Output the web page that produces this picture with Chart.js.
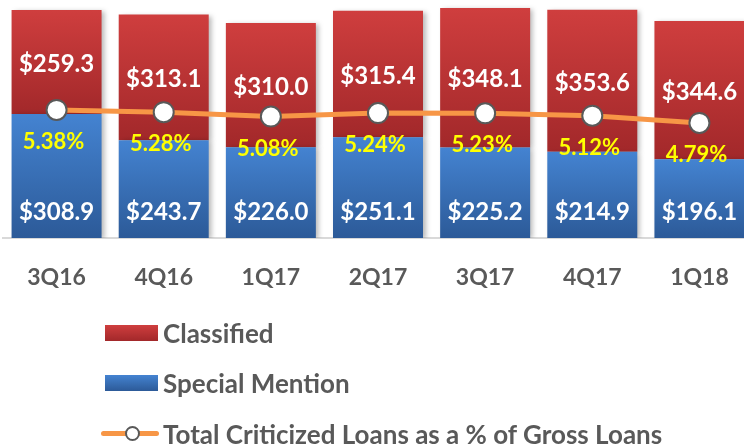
<!DOCTYPE html>
<html>
<head>
<meta charset="utf-8">
<script src="https://cdn.jsdelivr.net/npm/chart.js@4.4.0/dist/chart.umd.min.js"></script>
<style>
  html, body { margin: 0; padding: 0; background: #fff; overflow: hidden; }
  #wrap { position: relative; width: 756px; height: 444px; }
  #legend { position: absolute; left: 0; top: 0; font: bold 26px Lato, sans-serif; color: #595959; }
  .item { position: absolute; left: 0; height: 30px; white-space: nowrap; }
  .item span.txt { position: absolute; left: 163px; top: 0; line-height: 30px; }
  .swatch { position: absolute; left: 105px; top: 7px; width: 53px; height: 16px; }
  .lineSwatch { position: absolute; left: 101px; top: 12px; width: 58px; height: 5px; border-radius: 3px; background: #F79646; }
  .lineSwatch i { position: absolute; left: 24px; top: -5px; width: 11px; height: 11px; border-radius: 50%; background: #fff; border: 2px solid #595959; }
</style>
</head>
<body>
<div id="wrap">
  <canvas id="chart" width="756" height="444"></canvas>
  <div id="legend"></div>
</div>
<script>
// Quarters
const quarters = ['3Q16', '4Q16', '1Q17', '2Q17', '3Q17', '4Q17', '1Q18'];
// $ millions
const classified = [259.3, 313.1, 310.0, 315.4, 348.1, 353.6, 344.6];
const specialMention = [308.9, 243.7, 226.0, 251.1, 225.2, 214.9, 196.1];
// Total criticized loans as a % of gross loans
const criticizedPct = [5.38, 5.28, 5.08, 5.24, 5.23, 5.12, 4.79];

const RED = ['#CF3E3E', '#A2282A'];
const BLUE = ['#4483D1', '#2C5A98'];

// per-segment vertical gradient (light top, dark bottom)
const segGradient = (stops, startOf) => (c) => {
  const chart = c.chart;
  const y = chart.scales.y;
  if (!chart.chartArea || !y || c.dataIndex === undefined) return stops[0];
  const lo = startOf(c.dataIndex);
  const hi = lo + c.dataset.data[c.dataIndex];
  const g = chart.ctx.createLinearGradient(0, y.getPixelForValue(hi), 0, y.getPixelForValue(lo));
  g.addColorStop(0, stops[0]);
  g.addColorStop(1, stops[1]);
  return g;
};

// soft shadow behind the bars
const barShadow = {
  id: 'barShadow',
  beforeDatasetDraw(chart, args) {
    if (args.meta.type !== 'bar') return;
    const ctx = chart.ctx;
    ctx.save();
    ctx.shadowColor = 'rgba(0,0,0,0.28)';
    ctx.shadowBlur = 5;
    ctx.shadowOffsetX = 3;
    ctx.shadowOffsetY = 1;
  },
  afterDatasetDraw(chart, args) {
    if (args.meta.type !== 'bar') return;
    chart.ctx.restore();
  },
};

// value labels inside bars and under the line points
const valueLabels = {
  id: 'valueLabels',
  afterDatasetsDraw(chart) {
    const ctx = chart.ctx;
    const blue = chart.getDatasetMeta(0).data;
    const red = chart.getDatasetMeta(1).data;
    const pts = chart.getDatasetMeta(2).data;
    ctx.save();
    ctx.textAlign = 'center';
    ctx.textBaseline = 'middle';
    ctx.font = 'bold 24px Lato';
    ctx.fillStyle = '#FFFFFF';
    red.forEach((el, i) => ctx.fillText('$' + classified[i].toFixed(1), el.x, (el.y + el.base) / 2 + 2));
    blue.forEach((el, i) => ctx.fillText('$' + specialMention[i].toFixed(1), el.x, el.base - 26));
    ctx.font = 'bold 22px Lato';
    ctx.fillStyle = '#FFFF00';
    pts.forEach((el, i) => ctx.fillText(criticizedPct[i].toFixed(2) + '%', el.x - 3, el.y + 32));
    ctx.restore();
  },
};

const chart = new Chart(document.getElementById('chart'), {
  data: {
    labels: quarters,
    datasets: [
      {
        type: 'bar',
        label: 'Special Mention',
        data: specialMention,
        backgroundColor: segGradient(BLUE, () => 0),
        stack: 's',
        order: 1,
      },
      {
        type: 'bar',
        label: 'Classified',
        data: classified,
        backgroundColor: segGradient(RED, (i) => specialMention[i]),
        stack: 's',
        order: 1,
      },
      {
        type: 'line',
        label: 'Total Criticized Loans as a % of Gross Loans',
        data: criticizedPct,
        yAxisID: 'y2',
        borderColor: '#F79646',
        borderWidth: 5,
        tension: 0,
        pointRadius: 10,
        pointBackgroundColor: '#FFFFFF',
        pointBorderColor: '#595959',
        pointBorderWidth: 2,
        order: 0,
      },
    ],
  },
  options: {
    responsive: false,
    animation: false,
    layout: { autoPadding: false, padding: { left: 3, right: 3, top: 0, bottom: 0 } },
    datasets: {
      bar: { categoryPercentage: 1, barPercentage: 0.84 },
    },
    scales: {
      x: {
        stacked: true,
        grid: { display: false, drawTicks: false },
        border: { display: true, color: '#D9D9D9', width: 2 },
        ticks: {
          color: '#595959',
          font: { family: 'Lato', weight: 'bold', size: 23 },
          padding: 26,
        },
        afterFit: (s) => { s.height = 206; },
      },
      y: { stacked: true, display: false, min: 0, max: 593 },
      y2: { display: false, min: -0.44, max: 10.38 },
    },
    plugins: {
      legend: { display: false },
      tooltip: { enabled: false },
    },
  },
  plugins: [barShadow, valueLabels],
});

// HTML legend, vertical, in the reference order
const legend = document.getElementById('legend');
const items = [
  { text: 'Classified', swatch: `linear-gradient(${RED[0]}, ${RED[1]})`, top: 318 },
  { text: 'Special Mention', swatch: `linear-gradient(${BLUE[0]}, ${BLUE[1]})`, top: 368 },
  { text: chart.data.datasets[2].label, line: true, top: 419 },
];
items.forEach((it) => {
  const d = document.createElement('div');
  d.className = 'item';
  d.style.top = it.top + 'px';
  d.innerHTML = (it.line
    ? '<span class="lineSwatch"><i></i></span>'
    : `<span class="swatch" style="background:${it.swatch}"></span>`)
    + `<span class="txt">${it.text}</span>`;
  legend.appendChild(d);
});
</script>
</body>
</html>
